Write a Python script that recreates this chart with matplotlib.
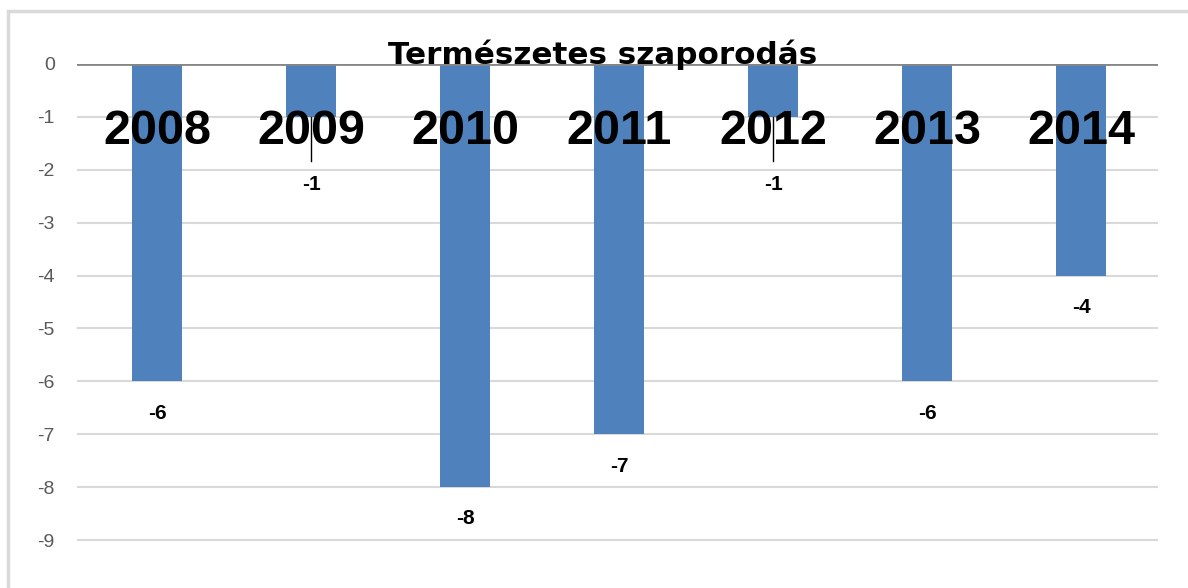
#!/usr/bin/env python3
# -*- coding: utf-8 -*-
import numpy as np
import matplotlib
matplotlib.use('Agg')
import matplotlib.pyplot as plt
from matplotlib.patches import Rectangle

# --------------------------------------------------
# data
# --------------------------------------------------
years = ['2008', '2009', '2010', '2011', '2012', '2013', '2014']
values = [-6, -1, -8, -7, -1, -6, -4]
yticks = [0, -1, -2, -3, -4, -5, -6, -7, -8, -9]
title = 'Természetes szaporodás'

W, H = 1188, 588


def main():
    plt.rcParams['font.family'] = ['Liberation Sans', 'DejaVu Sans']

    fig = plt.figure(figsize=(W / 100, H / 100), dpi=100)

    # outer chart frame (runs off the right and bottom edge)
    fig.patches.append(Rectangle((8 / W, -0.1), 1.2, (H - 11) / H + 0.1,
                                 transform=fig.transFigure, fill=False,
                                 edgecolor='#d9d9d9', linewidth=2.5))

    # plot area: x 77..1158, y 64..588 px
    ax = fig.add_axes([77 / W, 0, (1158 - 77) / W, (H - 64) / H])
    x = np.arange(len(years))

    ax.bar(x, values, width=0.325, color='#4f81bd', zorder=2)

    ax.set_xlim(-0.52, 6.5)
    ax.set_ylim(-9.906, 0)
    ax.set_yticks(yticks)
    ax.set_yticklabels([str(t) for t in yticks], fontsize=14, color='#595959')
    ax.tick_params(axis='y', length=0, pad=16)
    ax.set_xticks([])
    for s in ax.spines.values():
        s.set_visible(False)

    for t in yticks[1:]:
        ax.axhline(t, color='#d9d9d9', linewidth=1.5, zorder=1)
    ax.axhline(0, color='#868686', linewidth=2, zorder=3)

    # category labels sit inside the plot, over the bars
    for xi, yr in zip(x, years):
        ax.text(xi, -1.28, yr, ha='center', va='center', fontsize=35,
                fontweight='bold', color='black', zorder=5)

    # value labels, pushed below the year labels when the bar is short
    for xi, v in zip(x, values):
        ly = min(v - 0.6, -2.28)
        ax.text(xi, ly, str(v), ha='center', va='center', fontsize=15,
                fontweight='bold', color='black', zorder=5)
        if ly < v - 1.0:
            ax.plot([xi, xi], [v, ly + 0.45], color='black', linewidth=1,
                    zorder=4)

    fig.text(603 / W, 1 - 55 / H, title, ha='center', va='center',
             fontsize=22.3, fontweight='bold', color='black', zorder=6,
             family='DejaVu Sans')

    fig.savefig('out.png', dpi=100)


if __name__ == '__main__':
    main()
